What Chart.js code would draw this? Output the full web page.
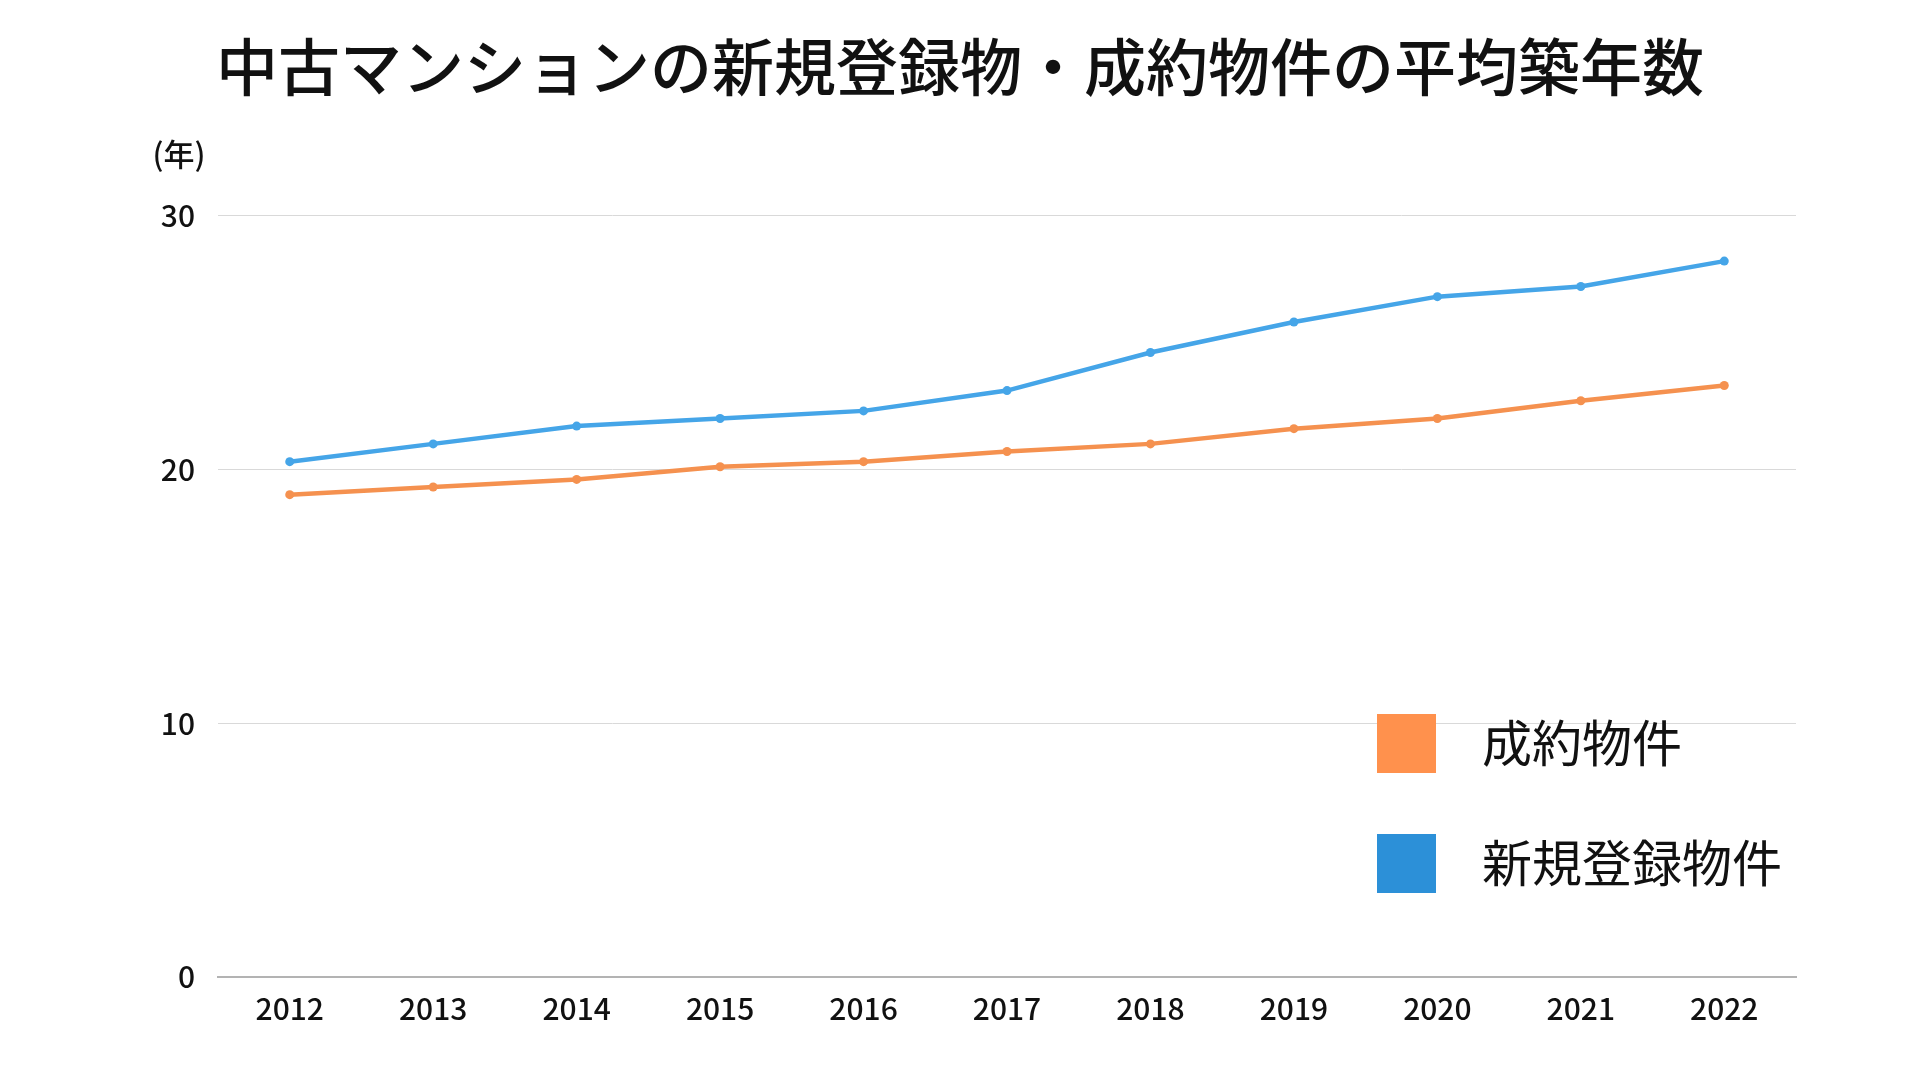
<!DOCTYPE html>
<html lang="ja">
<head>
<meta charset="utf-8">
<title>中古マンションの新規登録物・成約物件の平均築年数</title>
<script src="https://cdn.jsdelivr.net/npm/chart.js@4.4.1/dist/chart.umd.min.js"></script>
<style>
  html, body { margin: 0; padding: 0; background: #ffffff; }
  #wrap { position: relative; width: 1920px; height: 1080px; }
  #legend { position: absolute; left: 1377px; top: 714px; font-family: 'Noto Sans CJK JP', sans-serif; }
  .item { display: flex; align-items: center; height: 59px; margin-bottom: 61px; }
  .swatch { width: 59px; height: 59px; margin-right: 46px; }
  .label { font-size: 50px; color: #111111; line-height: 1; position: relative; top: -4px; }
</style>
</head>
<body>
<div id="wrap">
  <canvas id="chart" width="1920" height="1080"></canvas>
  <div id="legend"></div>
</div>
<script>
// Data
const years = ['2012', '2013', '2014', '2015', '2016', '2017', '2018', '2019', '2020', '2021', '2022'];
const contracted = [19.0, 19.3, 19.6, 20.1, 20.3, 20.7, 21.0, 21.6, 22.0, 22.7, 23.3];
const newListings = [20.3, 21.0, 21.7, 22.0, 22.3, 23.1, 24.6, 25.8, 26.8, 27.2, 28.2];
const yTicks = [0, 10, 20, 30];

const fontFamily = "'Noto Sans CJK JP', sans-serif";
const orangeLine = '#F5914F';
const blueLine = '#45A5E8';
const orangeKey = '#FF914D';
const blueKey = '#2C90D8';

document.addEventListener('DOMContentLoaded', () => {
  const ctx = document.getElementById('chart');

  // draws the "(年)" unit label above the y axis
  const unitLabel = {
    id: 'unitLabel',
    afterDraw(chart) {
      const c = chart.ctx;
      c.save();
      c.font = `500 31px ${fontFamily}`;
      c.fillStyle = '#111111';
      c.textAlign = 'center';
      c.textBaseline = 'middle';
      c.fillText('(年)', 179, 154);
      c.restore();
    }
  };

  const chart = new Chart(ctx, {
    type: 'line',
    data: {
      labels: years,
      datasets: [
        {
          label: '成約物件',
          data: contracted,
          borderColor: orangeLine,
          backgroundColor: orangeLine,
          borderWidth: 4.5,
          pointRadius: 4.5,
          pointBorderWidth: 0,
          tension: 0,
          keyColor: orangeKey
        },
        {
          label: '新規登録物件',
          data: newListings,
          borderColor: blueLine,
          backgroundColor: blueLine,
          borderWidth: 4.5,
          pointRadius: 4.5,
          pointBorderWidth: 0,
          tension: 0,
          keyColor: blueKey
        }
      ]
    },
    options: {
      responsive: false,
      animation: false,
      layout: { padding: { left: 124, right: 124, top: 0, bottom: 39 } },
      plugins: {
        legend: { display: false },
        tooltip: { enabled: false },
        title: {
          display: true,
          text: '中古マンションの新規登録物・成約物件の平均築年数',
          color: '#111111',
          font: { family: fontFamily, size: 62, weight: '500', lineHeight: 1.2 },
          padding: { top: 30, bottom: 111 }
        }
      },
      scales: {
        x: {
          offset: true,
          grid: { display: false, drawTicks: false },
          border: { display: true, color: '#b3b3b3', width: 2 },
          ticks: { color: '#111111', font: { family: fontFamily, size: 30, weight: '500' }, padding: 14, maxRotation: 0 }
        },
        y: {
          min: yTicks[0],
          max: yTicks[yTicks.length - 1],
          afterFit: scale => { scale.width = 94; },
          afterBuildTicks: scale => { scale.ticks = yTicks.map(v => ({ value: v })); },
          grid: { color: '#d9d9d9', lineWidth: 1, drawTicks: false },
          border: { display: false },
          ticks: { color: '#111111', font: { family: fontFamily, size: 30, weight: '500' }, padding: 23 }
        }
      }
    },
    plugins: [unitLabel]
  });

  // HTML legend built from the datasets
  const legend = document.getElementById('legend');
  chart.data.datasets.forEach(ds => {
    const item = document.createElement('div');
    item.className = 'item';
    const sw = document.createElement('div');
    sw.className = 'swatch';
    sw.style.background = ds.keyColor;
    const lb = document.createElement('div');
    lb.className = 'label';
    lb.textContent = ds.label;
    item.appendChild(sw);
    item.appendChild(lb);
    legend.appendChild(item);
  });
});
</script>
</body>
</html>
